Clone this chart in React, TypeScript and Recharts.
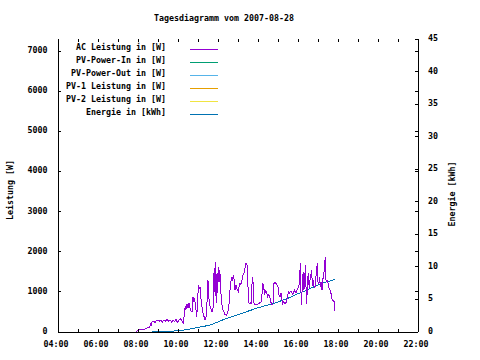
import { LineChart, Line, XAxis, YAxis } from "recharts";

// AC power samples (hour of day, W)
const acTime = [
  7.3, 7.9, 7.95, 8.0, 8.3, 8.35, 8.45, 8.55, 8.6, 8.65, 8.67, 8.7, 8.78, 8.85, 8.92, 9.0, 9.08, 9.15, 9.22, 9.3,
  9.38, 9.45, 9.52, 9.6, 9.68, 9.75, 9.82, 9.9, 9.97, 10.05, 10.12, 10.2, 10.27, 10.32, 10.36, 10.4, 10.45, 10.5,
  10.55, 10.6, 10.65, 10.7, 10.75, 10.78, 10.82, 10.87, 10.9, 10.93, 10.97, 11.02, 11.06, 11.1, 11.15, 11.22,
  11.28, 11.35, 11.4, 11.43, 11.46, 11.48, 11.52, 11.55, 11.6, 11.65, 11.7, 11.76, 11.8, 11.82, 11.85, 11.88,
  11.9, 11.92, 11.94, 11.96, 11.98, 12.02, 12.05, 12.08, 12.1, 12.12, 12.18, 12.24, 12.3, 12.35, 12.43, 12.5,
  12.56, 12.62, 12.68, 12.73, 12.77, 12.82, 12.85, 12.9, 12.95, 13.02, 13.07, 13.13, 13.18, 13.25, 13.32, 13.37,
  13.4, 13.45, 13.5, 13.55, 13.6, 13.65, 13.68, 13.71, 13.75, 13.8, 13.85, 13.9, 13.97, 14.03, 14.1, 14.17, 14.21,
  14.24, 14.28, 14.33, 14.38, 14.43, 14.48, 14.53, 14.58, 14.64, 14.7, 14.75, 14.8, 14.85, 14.9, 14.95, 15.0,
  15.05, 15.1, 15.15, 15.2, 15.23, 15.28, 15.33, 15.38, 15.43, 15.48, 15.52, 15.57, 15.62, 15.68, 15.73, 15.77,
  15.82, 15.87, 15.93, 15.98, 16.04, 16.08, 16.12, 16.15, 16.18, 16.22, 16.26, 16.3, 16.34, 16.38, 16.41, 16.44,
  16.47, 16.52, 16.56, 16.6, 16.64, 16.68, 16.72, 16.77, 16.81, 16.85, 16.89, 16.93, 16.96, 17.0, 17.05, 17.08,
  17.12, 17.16, 17.2, 17.24, 17.28, 17.32, 17.36, 17.4, 17.44, 17.48, 17.52, 17.56, 17.6, 17.65, 17.7, 17.75,
  17.8, 17.83,
];
const acPower = [
  0, 0, 25, 50, 60, 75, 100, 100, 150, 230, 150, 250, 270, 240, 280, 300, 270, 290, 250, 300,
  270, 310, 270, 300, 250, 290, 260, 310, 240, 300, 330, 280, 220, 480, 640, 560, 690, 600,
  730, 600, 520, 500, 880, 760, 840, 700, 560, 380, 620, 1170, 1080, 1130, 820, 550,
  420, 300, 380, 420, 900, 1300, 1260, 820, 640, 580, 500, 620, 1460, 1000, 1600, 1750,
  900, 720, 1450, 980, 1300, 1630, 1240, 1540, 1450, 1130, 750, 560, 500, 430, 420, 520,
  720, 1200, 1340, 1290, 1420, 1250, 1050, 1170, 1080, 1000, 1210, 1180, 1250, 1420, 1500, 1640,
  1710, 1670, 1130, 720, 700, 740, 720, 1380, 1250, 720, 680, 670, 690, 700, 730, 760, 1000,
  1230, 1130, 960, 1020, 1000, 880, 920, 900, 750, 670, 700, 1210, 1250, 1210, 1170, 1130,
  920, 880, 960, 800, 710, 760, 710, 720, 760, 900, 1000, 960, 1020, 1000, 940, 960,
  1050, 980, 1000, 1090, 1100, 1380, 1710, 1000, 670, 1300, 1500, 1050, 1400, 1670, 880, 700,
  1300, 1460, 1090, 1300, 1400, 1540, 1150, 1300, 1100, 1130, 1350, 1500, 1710, 1250, 1210, 1380,
  1130, 1250, 1050, 1300, 1420, 1550, 1880, 1290, 1250, 1300, 1130, 1090, 1050, 960, 820, 780,
  760, 520,
];

// cumulative energy (hour of day, kWh)
const energyTime = [
  8.18, 8.7, 9.27, 9.8, 10.27, 10.6, 10.93, 11.27, 11.6, 11.93, 12.27, 12.6, 12.93, 13.27, 13.6, 13.93,
  14.27, 14.6, 14.93, 15.27, 15.6, 15.93, 16.27, 16.6, 16.93, 17.27, 17.6, 17.85,
];
const energyKwh = [
  0, 0, 0.05, 0.15, 0.3, 0.45, 0.66, 0.85, 1.07, 1.45, 1.9, 2.25, 2.6, 2.95, 3.3, 3.65,
  3.95, 4.25, 4.5, 4.95, 5.3, 5.8, 6.2, 6.7, 7.1, 7.55, 7.85, 8.1,
];

const hourTicks = [4, 5, 6, 7, 8, 9, 10, 11, 12, 13, 14, 15, 16, 17, 18, 19, 20, 21, 22];
const powerTicks = [0, 1000, 2000, 3000, 4000, 5000, 6000, 7000];
const energyTicks = [0, 5, 10, 15, 20, 25, 30, 35, 40, 45];

const series = [
  { key: "ac", name: "AC Leistung in [W]", color: "#9400d3" },
  { key: "pvIn", name: "PV-Power-In in [W]", color: "#009e73" },
  { key: "pvOut", name: "PV-Power-Out in [W]", color: "#56b4e9" },
  { key: "pv1", name: "PV-1 Leistung in [W]", color: "#e69f00" },
  { key: "pv2", name: "PV-2 Leistung in [W]", color: "#f0e442" },
  { key: "energy", name: "Energie in [kWh]", color: "#0072b2" },
];

const acData = acTime.map((t, i) => ({ t, ac: acPower[i] }));
const energyData = energyTime.map((t, i) => ({ t, energy: energyKwh[i] }));
const emptyData: { t: number }[] = [];

const W = 480;
const H = 360;
const LEFT = 58;
const RIGHT = 62;
const TOP = 39;
const BOTTOM = 28;
const PLOT_W = W - LEFT - RIGHT;
const PLOT_H = H - TOP - BOTTOM;
const TICK = 3;
const FONT = "'DejaVu Sans Mono', 'Liberation Mono', monospace";
const FS = 8.3;
const FW = 700;

const fmtHour = (h: number) => `${String(h).padStart(2, "0")}:00`;

const BottomTick = ({ x, y, payload }: any) => (
  <g>
    <line x1={x} x2={x} y1={y} y2={y - TICK} stroke="#000" shapeRendering="crispEdges" />
    <line x1={x} x2={x} y1={y - PLOT_H} y2={y - PLOT_H + TICK} stroke="#000" shapeRendering="crispEdges" />
    {payload.value % 2 === 0 && (
      <text x={x - 2} y={y + 14.5} textAnchor="middle" fontFamily={FONT} fontSize={FS} fontWeight={FW} fill="#000">
        {fmtHour(payload.value)}
      </text>
    )}
  </g>
);

const LeftTick = ({ x, y, payload }: any) => (
  <g>
    <line x1={x} x2={x + TICK} y1={y} y2={y} stroke="#000" shapeRendering="crispEdges" />
    <line x1={x + PLOT_W} x2={x + PLOT_W - TICK} y1={y} y2={y} stroke="#000" shapeRendering="crispEdges" />
    <text x={x - 10.5} y={y + 2} textAnchor="end" fontFamily={FONT} fontSize={FS} fontWeight={FW} fill="#000">
      {payload.value}
    </text>
  </g>
);

const RightTick = ({ x, y, payload }: any) => (
  <g>
    <line x1={x} x2={x - TICK} y1={y} y2={y} stroke="#000" shapeRendering="crispEdges" />
    <text x={x + 10} y={y + 2} textAnchor="start" fontFamily={FONT} fontSize={FS} fontWeight={FW} fill="#000">
      {payload.value}
    </text>
  </g>
);

export default function App() {
  return (
    <div style={{ position: "absolute", left: 0, top: 0, width: W, height: H, background: "#fff" }}>
      <LineChart width={W} height={H} margin={{ top: TOP, right: 0, bottom: 0, left: 0 }}>
        <XAxis
          xAxisId="bottom"
          type="number"
          dataKey="t"
          domain={[4, 22]}
          ticks={hourTicks}
          interval={0}
          height={BOTTOM}
          tickSize={0}
          tickMargin={0}
          tickLine={false}
          tick={<BottomTick />}
          axisLine={{ stroke: "#000", shapeRendering: "crispEdges" }}
          allowDataOverflow
        />
        <XAxis
          xAxisId="top"
          orientation="top"
          type="number"
          dataKey="t"
          domain={[4, 22]}
          ticks={[]}
          height={0}
          tick={false}
          tickLine={false}
          axisLine={{ stroke: "#000", shapeRendering: "crispEdges" }}
        />
        <YAxis
          yAxisId="w"
          type="number"
          domain={[0, 7300]}
          ticks={powerTicks}
          interval={0}
          width={LEFT}
          tickSize={0}
          tickMargin={0}
          tickLine={false}
          tick={<LeftTick />}
          axisLine={{ stroke: "#000", shapeRendering: "crispEdges" }}
          allowDataOverflow
        />
        <YAxis
          yAxisId="e"
          orientation="right"
          type="number"
          domain={[0, 45]}
          ticks={energyTicks}
          interval={0}
          width={RIGHT}
          tickSize={0}
          tickMargin={0}
          tickLine={false}
          tick={<RightTick />}
          axisLine={{ stroke: "#000", shapeRendering: "crispEdges" }}
          allowDataOverflow
        />
        {series.slice(1, 5).map((s) => (
          <Line
            key={s.key}
            data={emptyData}
            dataKey={s.key}
            xAxisId="bottom"
            yAxisId="w"
            stroke={s.color}
            dot={false}
            isAnimationActive={false}
          />
        ))}
        <Line
          data={energyData}
          dataKey="energy"
          xAxisId="bottom"
          yAxisId="e"
          type="linear"
          stroke={series[5].color}
          strokeWidth={1}
          dot={false}
          shapeRendering="crispEdges"
          isAnimationActive={false}
          zIndex={900}
        />
        <Line
          data={acData}
          dataKey="ac"
          xAxisId="bottom"
          yAxisId="w"
          type="linear"
          stroke={series[0].color}
          strokeWidth={1}
          dot={false}
          shapeRendering="crispEdges"
          isAnimationActive={false}
          zIndex={1000}
        />
      </LineChart>
      <svg
        width={W}
        height={H}
        style={{ position: "absolute", left: 0, top: 0, pointerEvents: "none" }}
        fontFamily={FONT}
        fontSize={FS}
        fontWeight={FW}
      >
        <text x={224} y={21} textAnchor="middle" fill="#000">
          Tagesdiagramm vom 2007-08-28
        </text>
        <text transform="translate(13,190) rotate(-90)" textAnchor="middle" fill="#000">
          Leistung [W]
        </text>
        <text transform="translate(455,194) rotate(-90)" textAnchor="middle" fill="#000">
          Energie [kWh]
        </text>
        {series.map((s, i) => {
          const cy = 47.3 + i * 12.9;
          const ly = Math.round(cy + 2) + 0.5;
          return (
            <g key={s.key}>
              <text x={166} y={cy + 3} textAnchor="end" fill="#000">
                {s.name}
              </text>
              <line x1={190} x2={218} y1={ly} y2={ly} stroke={s.color} />
            </g>
          );
        })}
      </svg>
    </div>
  );
}
